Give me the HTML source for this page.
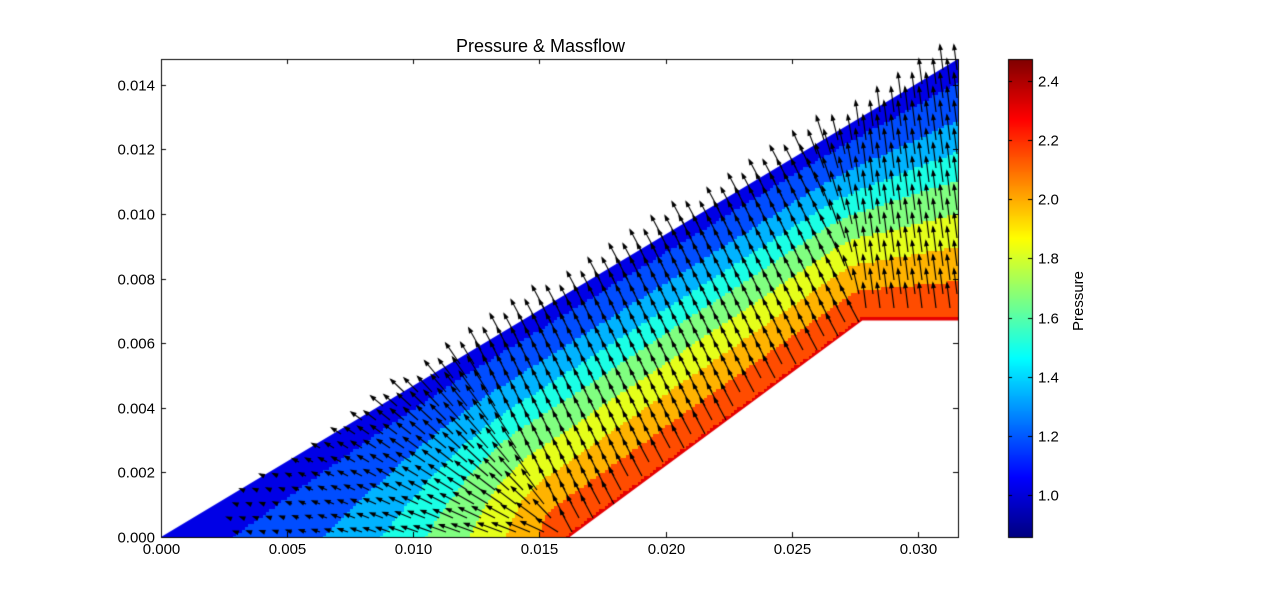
<!DOCTYPE html>
<html><head><meta charset="utf-8"><style>
body{margin:0;background:#fff;width:1286px;height:597px;overflow:hidden;font-family:"Liberation Sans",sans-serif}
.t{position:absolute;font-size:15px;color:#000}
</style></head><body>
<div style="position:relative;width:1286px;height:597px">
<div class="t" style="left:456px;top:36px;font-size:18px">Pressure &amp; Massflow</div>
<canvas id="c" width="1286" height="597" style="position:absolute;left:0;top:0"></canvas>
<div class="t" style="transform:rotate(-90deg);transform-origin:0 0;width:70px;text-align:center;left:1070px;top:336px">Pressure</div>
<div id="labels"></div>
</div>
<script>
const xTicks=[0,0.005,0.010,0.015,0.020,0.025,0.030];
const yTicks=[0,0.002,0.004,0.006,0.008,0.010,0.012,0.014];
const cbTicks=[1.0,1.2,1.4,1.6,1.8,2.0,2.2,2.4];
const profileU=[0,0.25,0.45,0.65,0.82,1];
const profileP=[1.0,1.3,1.6,1.85,2.05,2.25];
const domain=[[0,0],[0.03159,0.0148],[0.03159,0.0067],[0.0278,0.0067],[0.0162,0]];
const X0=161,X1=958,Y0=537,Y1=59,xMax=0.03159,yMax=0.0148;
const CBX=1008,CBW=24,pMin=0.858,pMax=2.474;
const SL=yMax/xMax;
const sx=v=>X0+v/xMax*(X1-X0), sy=v=>Y0-v/yMax*(Y0-Y1);
const cy=p=>Y0-(p-pMin)/(pMax-pMin)*(Y0-Y1);
function jet(t){t=Math.max(0,Math.min(1,t));
 const f=(a)=>Math.max(0,Math.min(1,1.5-Math.abs(4*t-a)));
 return [f(3),f(2),f(1)].map(v=>Math.round(v*255));}
function segNear(px,py,a,b){const dx=b[0]-a[0],dy=b[1]-a[1];let t=((px-a[0])*dx+(py-a[1])*dy)/(dx*dx+dy*dy);t=Math.max(0,Math.min(1,t));const qx=a[0]+t*dx,qy=a[1]+t*dy;return [Math.hypot(px-qx,py-qy),qx,qy];}
function lowNear(x,y){const a=segNear(x,y,domain[4],domain[3]),b=segNear(x,y,domain[3],domain[2]);return a[0]<b[0]?a:b;}
function press(x,y){const dt=Math.abs(SL*x-y)/Math.hypot(1,SL);
 const dl=lowNear(x,y)[0];
 const u=dt/(dt+dl+1e-12);
 for(let i=1;i<profileU.length;i++)if(u<=profileU[i]){const k=(u-profileU[i-1])/(profileU[i]-profileU[i-1]);return profileP[i-1]+k*(profileP[i]-profileP[i-1]);}
 return profileP[profileP.length-1];}
const c=document.getElementById('c'),g=c.getContext('2d');
g.save();g.beginPath();domain.forEach((p,i)=>i?g.lineTo(sx(p[0]),sy(p[1])):g.moveTo(sx(p[0]),sy(p[1])));g.closePath();g.clip();
for(let px=X0;px<X1;px+=3)for(let py=Y1;py<Y0;py+=3){const x=(px+1.5-X0)/(X1-X0)*xMax,y=(Y0-py-1.5)/(Y0-Y1)*yMax;
 const p=press(x,y);const q=Math.round((p-pMin)/(pMax-pMin)*10)/10;const col=jet(q);g.fillStyle=`rgb(${col})`;g.fillRect(px,py,3,3);}
g.restore();
function inside(x,y){if(y<0||x>xMax||y>SL*x)return false;if(y<0.0067){const xb=0.0162+y/0.0067*0.0116;return x<xb;}return true;}
g.fillStyle='#000';g.strokeStyle='#000';g.lineWidth=1.1;
let row=0;
for(let py=Y0-5;py>Y1;py-=14,row++)for(let px=X0+5+(row%2)*7;px<X1;px+=14){
 const x=(px-X0)/(X1-X0)*xMax,y=(Y0-py)/(Y0-Y1)*yMax;if(!inside(x,y))continue;
 const n=lowNear(x,y);let gx=x-n[1],gy=y-n[2];let m=Math.hypot(gx,gy)||1;gx=0.7*gx/m-0.12;gy=0.7*gy/m+0.27;m=Math.hypot(gx,gy);gx/=m;gy/=m;
 const L=25*Math.min(1,Math.hypot(x,y)/0.013)**1.6;if(L<2)continue;
 const ex=px+gx*L,ey=py-gy*L;g.beginPath();g.moveTo(px,py);g.lineTo(ex,ey);g.stroke();
 const ax=-gx,ay=gy;g.beginPath();g.moveTo(ex+gx*2,ey-gy*2);g.lineTo(ex+ax*5-ay*2.5,ey+ay*5+ax*2.5);g.lineTo(ex+ax*5+ay*2.5,ey+ay*5-ax*2.5);g.closePath();g.fill();}
g.lineWidth=1;g.strokeStyle='#000';g.strokeRect(X0+0.5,Y1+0.5,X1-X0,Y0-Y1);
const lab=document.getElementById('labels');
function addLabel(txt,l,t,name,align){const d=document.createElement('div');d.className='t';d.textContent=txt;
 
 
 d.style.left=l+'px';d.style.top=t+'px';if(align)d.style.transform=align;lab.appendChild(d);}
xTicks.forEach(v=>{const X=Math.round(sx(v))+0.5;g.beginPath();g.moveTo(X,Y0);g.lineTo(X,Y0-5);g.moveTo(X,Y1);g.lineTo(X,Y1+5);g.stroke();addLabel(v.toFixed(3),X,Y0+4,'x-tick-label','translateX(-50%)');});
yTicks.forEach(v=>{const Y=Math.round(sy(v))+0.5;g.beginPath();g.moveTo(X0,Y);g.lineTo(X0+5,Y);g.moveTo(X1,Y);g.lineTo(X1-5,Y);g.stroke();addLabel(v.toFixed(3),X0-6,Y,'y-tick-label','translate(-100%,-50%)');});
for(let py=Y1;py<Y0;py++){const p=pMax-(py-Y1)/(Y0-Y1)*(pMax-pMin);const col=jet((p-pMin)/(pMax-pMin));g.fillStyle=`rgb(${col})`;g.fillRect(CBX,py,CBW,1);}
g.strokeRect(CBX+0.5,Y1+0.5,CBW,Y0-Y1);
cbTicks.forEach(v=>{const Y=Math.round(cy(v))+0.5;g.beginPath();g.moveTo(CBX,Y);g.lineTo(CBX+4,Y);g.moveTo(CBX+CBW,Y);g.lineTo(CBX+CBW-4,Y);g.stroke();addLabel(v.toFixed(1),CBX+CBW+6,Y,'colorbar-tick-label','translateY(-50%)');});
</script>
</body></html>
